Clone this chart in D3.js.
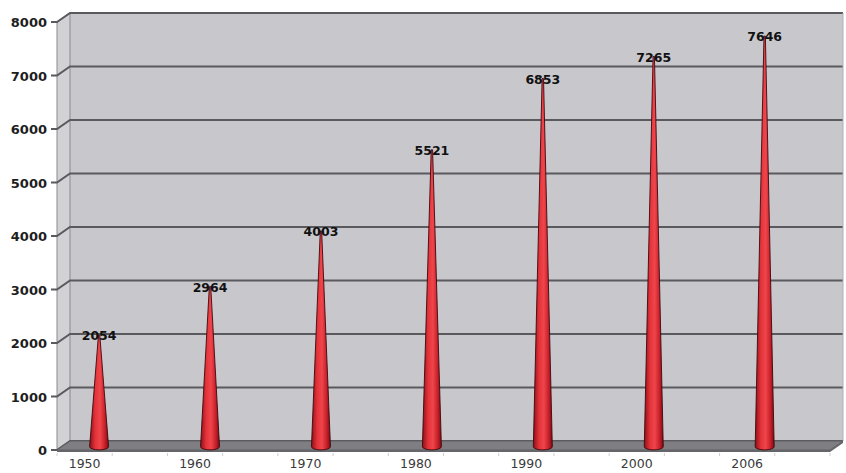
<!DOCTYPE html>
<html><head><meta charset="utf-8">
<script src="https://cdn.jsdelivr.net/npm/d3@7"></script>
<style>body{margin:0;background:#fff}svg{display:block}</style>
</head><body>
<svg id="c" width="846" height="473"></svg>
<script>
const categories = ["1950","1960","1970","1980","1990","2000","2006"];
const values = [2054, 2964, 4003, 5521, 6853, 7265, 7646];
const yTicks = [0,1000,2000,3000,4000,5000,6000,7000,8000];

const svg = d3.select("#c");
const depthX = 13, depthY = 9;
const xL = 57, xR = 830;
const slots = d3.scaleLinear().domain([0, 14]).range([xL, xR]);
const yFront = d3.scaleLinear().domain([0, 8000]).range([450, 22]);
const yBack = v => yFront(v) - depthY;
const yMid = v => yFront(v) - depthY / 2 - 0.3;

// back wall
svg.append("rect").attr("x", xL + depthX).attr("y", yBack(8000))
  .attr("width", xR - xL).attr("height", yBack(0) - yBack(8000))
  .attr("fill", "#c7c7cc");
// left wall
svg.append("path")
  .attr("d", `M${xL},${yFront(8000)}L${xL+depthX},${yBack(8000)}L${xL+depthX},${yBack(0)}L${xL},${yFront(0)}Z`)
  .attr("fill", "#d2d2d6").attr("stroke", "#8a8a8e").attr("stroke-width", 1);

// gridlines
yTicks.forEach(t => {
  svg.append("path")
    .attr("d", `M${xL-6},${yFront(t)}L${xL},${yFront(t)}L${xL+depthX},${yBack(t)}L${xR+depthX},${yBack(t)}`)
    .attr("fill", "none").attr("stroke", "#5a5a5e").attr("stroke-width", 2);
  svg.append("text").attr("x", 47).attr("y", yFront(t) + 5)
    .attr("text-anchor", "end").attr("font-family", "DejaVu Sans").attr("font-weight", "bold")
    .attr("font-size", 13).attr("fill", "#1e1e1e").text(t);
});

// right wall edge
svg.append("line").attr("x1", xR + depthX).attr("x2", xR + depthX)
  .attr("y1", yBack(8000)).attr("y2", yBack(0)).attr("stroke", "#b0b0b4").attr("stroke-width", 1);

// floor
svg.append("path")
  .attr("d", `M${xL},${yFront(0)}L${xL+depthX},${yBack(0)}L${xR+depthX},${yBack(0)}L${xR},${yFront(0)}Z`)
  .attr("fill", "#7f7f83").attr("stroke", "#5e5e62").attr("stroke-width", 1);
svg.append("path")
  .attr("d", `M${xL},${yFront(0)}L${xR},${yFront(0)}L${xR+depthX},${yBack(0)}L${xR+depthX},${yBack(0)+2}L${xR},${yFront(0)+2}L${xL},${yFront(0)+2}Z`)
  .attr("fill", "#66666a");

// x ticks
d3.range(15).forEach(k => {
  svg.append("line").attr("x1", slots(k)).attr("x2", slots(k))
    .attr("y1", yFront(0) + 3).attr("y2", yFront(0) + 6)
    .attr("stroke", "#cfcfcf").attr("stroke-width", 1);
});

// x labels
categories.forEach((c, i) => {
  svg.append("text").attr("x", slots(2 * i + 0.5)).attr("y", 468)
    .attr("text-anchor", "middle").attr("font-family", "DejaVu Sans")
    .attr("font-size", 12.5).attr("fill", "#3a3a3a").text(c);
});

// gradient
const defs = svg.append("defs");
const g = defs.append("linearGradient").attr("id", "cone").attr("x1", "0").attr("x2", "1").attr("y1", "0").attr("y2", "0");
[["0%", "#8e1016"], ["30%", "#e3323a"], ["55%", "#ef454b"], ["80%", "#c8202a"], ["100%", "#7c0c12"]]
  .forEach(s => g.append("stop").attr("offset", s[0]).attr("stop-color", s[1]));

// cones
values.forEach((v, i) => {
  const cx = slots(2 * i + 0.5) + 14.5 + i * 0.5;
  const yb = yMid(0) + 1.5, yt = yMid(v), hw = 9.5;
  svg.append("path")
    .attr("d", `M${cx-0.7},${yt}L${cx-hw},${yb}A${hw},3.2 0 0 0 ${cx+hw},${yb}L${cx+0.7},${yt}Z`)
    .attr("fill", "url(#cone)").attr("stroke", "#3e080c").attr("stroke-width", 0.9);
  svg.append("text").attr("x", cx).attr("y", yt + 5)
    .attr("text-anchor", "middle").attr("font-family", "DejaVu Sans").attr("font-weight", "bold")
    .attr("font-size", 12.5).attr("fill", "#111").text(v);
});
</script>
</body></html>
